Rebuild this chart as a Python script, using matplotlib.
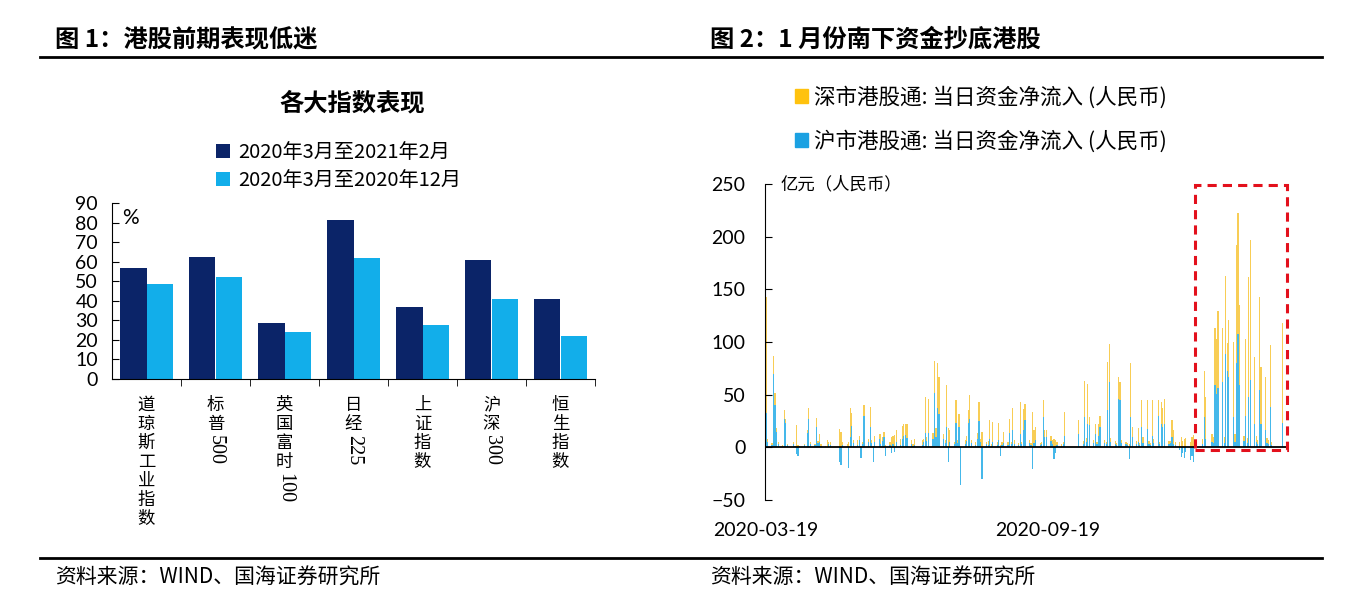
import numpy as np
import pandas as pd
import matplotlib
matplotlib.use('Agg')
import matplotlib.pyplot as plt
from matplotlib.lines import Line2D
from matplotlib.patches import Rectangle, Patch

plt.rcParams['font.family'] = ['Noto Sans CJK SC', 'DejaVu Sans']

# ---- figure 1 data: index performance (%)
indices = ['道琼斯工业指数', '标普500', '英国富时100', '日经225', '上证指数', '沪深300', '恒生指数']
perf_to_feb21 = [56.6, 62.2, 28.5, 81.2, 36.7, 60.8, 41.1]
perf_to_dec20 = [48.4, 52.0, 23.8, 61.7, 27.7, 41.1, 22.0]
series_names = ['2020年3月至2021年2月', '2020年3月至2020年12月']

# ---- figure 2 data: daily southbound net inflow (100m RMB), trading days from 2020-03-19
flow_start = '2020-03-19'
sh_flow = [
    33, 5, 2, 70, 40, 15, 3, 1, 27, 23,
    2, 0, 3, 1, -6, -8, 1, 2, 0, 14,
    27, 3, 2, 19, 4, 5, 1, 0, 0, 3,
    2, 0, 0, 0, -14, -17, 2, 1, -20, 10,
    20, 4, 2, 7, -10, 3, 30, 5, 19, 4,
    -14, 5, 8, 3, 6, 10, -8, 2, -5, 3,
    -4, 5, 2, 8, 11, 12, 9, 3, 1, 2,
    0, 0, 2, 5, 14, 6, 14, 8, 52, 10,
    37, 32, 8, 4, 19, -14, 5, 3, 23, 4,
    19, -36, 3, 6, 23, 27, 4, 2, 8, 25,
    5, -30, 3, 2, 8, 1, 5, 2, 7, -8,
    2, 4, 2, 14, 3, 16, 3, 2, 13, 3,
    16, 26, 4, 2, -21, 4, 7, 2, 3, 29,
    10, 10, 6, 3, -11, -5, 2, 1, 3, 11,
    0, 0, 0, 0, 0, 0, 13, 3, 29, 5,
    22, 21, 4, 13, 3, 11, 19, 4, 3, 35,
    62, 5, 3, 2, 46, 45, 4, 3, 2, -11,
    29, 10, 3, 5, 2, 19, 4, 17, 3, 2,
    11, 4, 30, 3, 22, 19, 22, 3, 4, 10,
    3, 2, -3, -9, -5, -10, -4, -12, -8, -14,
    2, 1, 0, 3, 29, 8, 0, 5, 4, 59,
    51, 56, 62, 4, 89, 72, 67, 29, 5, 80,
    108, 59, 6, 30, 4, 48, 64, 22, 5, 3,
    54, 22, 16, 4, 3, 38, 2, 0, 0, 0,
    0, 23,
]
sz_flow = [
    110, 3, 2, 17, 12, 3, 2, 1, 8, 4,
    1, 0, 2, 0, 21, 2, 0, 1, 0, 2,
    10, 2, 1, 9, 2, 8, 2, 1, 7, 2,
    3, 0, 0, 0, 17, 15, 3, 2, 5, 27,
    13, 3, 5, 4, 1, 2, 10, 3, 19, 3,
    1, 6, 5, 10, 4, 5, 2, 3, 10, 8,
    12, 11, 6, 12, 11, 10, 13, 4, 2, 6,
    0, 0, 5, 3, 34, 4, 32, 6, 30, 8,
    43, 35, 5, 3, 40, 18, 11, 2, 22, 3,
    13, 0, 4, 5, 12, 23, 3, 3, 6, 18,
    3, 15, 2, 4, 18, 2, 19, 3, 16, 2,
    3, 11, 3, 13, 2, 21, 4, 2, 30, 2,
    20, 15, 3, 2, 34, 12, 12, 2, 2, 16,
    6, 6, 5, 4, 8, 7, 3, 2, 2, 23,
    0, 0, 0, 0, 0, 0, 13, 3, 34, 4,
    38, 8, 3, 9, 2, 11, 11, 3, 2, 46,
    36, 4, 3, 2, 21, 17, 3, 2, 2, 3,
    51, 9, 3, 13, 2, 26, 6, 28, 3, 2,
    34, 4, 15, 2, 21, 18, 24, 3, 2, 16,
    13, 3, 5, 10, 6, 8, 9, 5, 10, 12,
    3, 2, 0, 5, 43, 40, 0, 8, 6, 54,
    52, 73, 51, 6, 74, 27, 54, 71, 8, 112,
    114, 76, 5, 73, 5, 114, 133, 64, 6, 4,
    89, 54, 51, 5, 4, 59, 3, 0, 0, 0,
    0, 95,
]
flow_names = ['深市港股通: 当日资金净流入 (人民币)', '沪市港股通: 当日资金净流入 (人民币)']
date_ticks = ['2020-03-19', '2020-09-19']
box_start, box_end = '2020-12-24', '2021-02-22'

navy = '#0B2468'
sky = '#12AEEA'
gold = '#FFC20E'
blue2 = '#1BA1E2'
gold_bar = '#F8CD55'
blue_bar = '#45B8EA'

W, H = 1361, 604
fig = plt.figure(figsize=(W / 100, H / 100), dpi=100)

def fx(px):
    return px / W

def fy(py):
    return 1 - py / H

# header and footer
fig.text(fx(55), fy(40), '图 1：港股前期表现低迷', fontsize=17.5, fontweight='bold', va='center')
fig.text(fx(710), fy(40), '图 2：1 月份南下资金抄底港股', fontsize=17.5, fontweight='bold', va='center')
fig.add_artist(Line2D([fx(40), fx(1322)], [fy(57), fy(57)], color='black', lw=2))
fig.add_artist(Line2D([fx(40), fx(1322)], [fy(558), fy(558)], color='black', lw=2))
fig.text(fx(55), fy(578), '资料来源：WIND、国海证券研究所', fontsize=15, va='center')
fig.text(fx(710), fy(578), '资料来源：WIND、国海证券研究所', fontsize=15, va='center')

# ---------------- left chart
ax1 = fig.add_axes([fx(112), fy(379), fx(595 - 112), fy(203) - fy(379)])
x = np.arange(len(indices))
bw = 0.39
ax1.bar(x - bw / 2, perf_to_feb21, bw, color=navy, label=series_names[0])
ax1.bar(x + bw / 2, perf_to_dec20, bw, color=sky, label=series_names[1])
ax1.set_xlim(-0.5, len(indices) - 0.5)
ax1.set_ylim(0, 90)
ax1.set_yticks(range(0, 91, 10))
ax1.tick_params(axis='y', direction='in', length=5, labelsize=14, pad=10)
for lab in ax1.get_yticklabels():
    lab.set_family(['Lato', 'DejaVu Sans'])
ax1.set_xticks(x)
ax1.set_xticklabels([])
ax1.tick_params(axis='x', length=0)
ax1.set_xticks(np.arange(0.5, len(indices), 1), minor=True)
ax1.tick_params(axis='x', which='minor', direction='out', length=5)
for s in ['top', 'right']:
    ax1.spines[s].set_visible(False)
ax1.text(0.02, 0.97, '%', transform=ax1.transAxes, fontsize=15, va='top', ha='left',
         family=['Lato', 'DejaVu Sans'])
fig.text(fx(352), fy(103), '各大指数表现', fontsize=17.5, fontweight='bold', ha='center', va='center')
ax1.legend(loc='upper left', bbox_to_anchor=(fx(216), fy(142)), bbox_transform=fig.transFigure,
           frameon=False, fontsize=14.5, handlelength=0.7, handleheight=0.7, handletextpad=0.4,
           labelspacing=0.35, borderpad=0, borderaxespad=0)

# vertical category labels: CJK chars stacked, digit runs rotated
pitch = 13.7
for i, name in enumerate(indices):
    runs = []
    for ch in name:
        if ch.isdigit() and runs and runs[-1][0] == 'd':
            runs[-1] = ('d', runs[-1][1] + ch)
        elif ch.isdigit():
            runs.append(('d', ch))
        else:
            runs.append(('c', ch))
    off = 12
    for kind, txt in runs:
        if kind == 'c':
            ax1.annotate(txt, xy=(i, 0), xycoords=('data', 'axes fraction'), xytext=(0, -off),
                         textcoords='offset points', ha='center', va='top', fontsize=12.5)
            off += pitch
        else:
            ax1.annotate(txt, xy=(i, 0), xycoords=('data', 'axes fraction'), xytext=(0, -off - 1),
                         textcoords='offset points', ha='center', va='top', fontsize=14.5,
                         rotation=-90, family=['Liberation Serif', 'DejaVu Serif'])
            off += 7.5 * len(txt)

# ---------------- right chart
dates = pd.bdate_range(flow_start, periods=len(sh_flow))
sh = np.array(sh_flow, dtype=float)
sz = np.array(sz_flow, dtype=float)
bottom = np.where(sz >= 0, np.maximum(sh, 0), np.minimum(sh, 0))

ax2 = fig.add_axes([fx(765), fy(500), fx(1287 - 765), fy(184) - fy(500)])
ax2.bar(dates, sh, width=0.8, color=blue_bar, linewidth=0)
ax2.bar(dates, sz, width=0.8, bottom=bottom, color=gold_bar, linewidth=0)
ax2.set_xlim(pd.Timestamp(flow_start) - pd.Timedelta(hours=14), pd.Timestamp(box_end))
ax2.set_ylim(-50, 250)
ax2.set_yticks(range(-50, 251, 50))
ax2.tick_params(axis='y', direction='in', length=5, labelsize=14, pad=14)
for lab in ax2.get_yticklabels():
    lab.set_family(['Lato', 'DejaVu Sans'])
ax2.axhline(0, color='black', lw=1.3)
for s in ['top', 'right', 'bottom']:
    ax2.spines[s].set_visible(False)
ax2.set_xticks(pd.to_datetime(date_ticks))
ax2.set_xticklabels(date_ticks, fontsize=14, family=['Lato', 'DejaVu Sans'])
ax2.tick_params(axis='x', length=0, pad=16)
ax2.text(0.03, 1.0, '亿元（人民币）', transform=ax2.transAxes, fontsize=12.5, va='center', ha='left')
b0 = pd.Timestamp(box_start)
b1 = pd.Timestamp(box_end)
ax2.add_patch(Rectangle((b0, -3), b1 - b0, 252, fill=False, edgecolor='#E3101C', lw=2.2,
                        linestyle=(0, (3, 2)), clip_on=False, zorder=5))

handles = [Patch(color=gold), Patch(color=blue2)]
fig.legend(handles, flow_names, loc='upper left', bbox_to_anchor=(fx(795), fy(86)),
           frameon=False, fontsize=15.5, handlelength=0.6, handleheight=0.6, handletextpad=0.3,
           labelspacing=1.0, borderpad=0, borderaxespad=0)

fig.savefig('out.png', dpi=100)
